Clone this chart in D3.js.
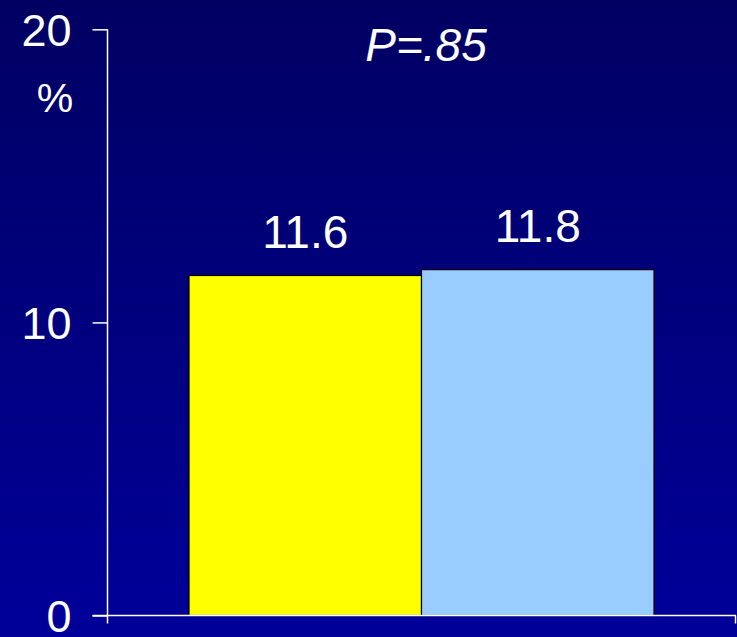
<!DOCTYPE html>
<html>
<head>
<meta charset="utf-8">
<script src="https://cdn.jsdelivr.net/npm/d3@7"></script>
<style>
  html, body { margin: 0; padding: 0; background: #000080; }
  svg { display: block; }
  text { font-family: "Liberation Sans", Arial, sans-serif; fill: #fff; }
</style>
</head>
<body>
<div id="chart"></div>
<script>
var width = 737;
var height = 637;

// data
var groups = ["A", "B"];
var values = [11.6, 11.8];
var barColors = ["#ffff00", "#99ccff"];
var yTicks = [0, 10, 20];
var pLabel = "P=.85";

var svg = d3.select("#chart").append("svg")
  .attr("width", width)
  .attr("height", height);

// background gradient, dark navy at top to brighter blue at bottom
var defs = svg.append("defs");
var grad = defs.append("linearGradient")
  .attr("id", "bg")
  .attr("x1", 0).attr("y1", 0).attr("x2", 0).attr("y2", 1);
grad.append("stop").attr("offset", "0%").attr("stop-color", "#000062");
grad.append("stop").attr("offset", "100%").attr("stop-color", "#00009a");

svg.append("rect")
  .attr("width", width).attr("height", height)
  .attr("fill", "url(#bg)");

var y = d3.scaleLinear().domain([0, 20]).range([615.5, 29.3]);
var x = d3.scaleBand().domain(groups).range([189, 654]).padding(0);

var axisX = 107.5;

// bars
svg.selectAll("rect.bar")
  .data(values)
  .enter().append("rect")
  .attr("class", "bar")
  .attr("x", function(d, i){ return x(groups[i]); })
  .attr("y", function(d){ return y(d); })
  .attr("width", x.bandwidth())
  .attr("height", function(d){ return y(0) - y(d); })
  .attr("fill", function(d, i){ return barColors[i]; })
  .attr("stroke", "#000")
  .attr("stroke-width", 1.2);

// value labels
svg.selectAll("text.val")
  .data(values)
  .enter().append("text")
  .attr("class", "val")
  .attr("x", function(d, i){ return x(groups[i]) + x.bandwidth() / 2; })
  .attr("y", function(d){ return y(d) - 28; })
  .attr("text-anchor", "middle")
  .style("font-size", "46px")
  .text(function(d){ return d.toFixed(1); });

// y axis
var yAxis = d3.axisLeft(y)
  .tickValues(yTicks)
  .tickSize(15)
  .tickSizeOuter(0)
  .tickFormat(d3.format("d"));

var gy = svg.append("g")
  .attr("transform", "translate(" + axisX + ",0)")
  .call(yAxis);

gy.select(".domain").remove();
gy.selectAll(".tick line").attr("stroke", "#fff").attr("stroke-width", 1.5);
gy.selectAll(".tick text")
  .attr("x", -36)
  .attr("dy", "16px")
  .attr("fill", "#fff")
  .style("font-family", "'Liberation Sans', Arial, sans-serif")
  .style("font-size", "45px");

// vertical axis line, runs a bit below the baseline
svg.append("line")
  .attr("x1", axisX).attr("x2", axisX)
  .attr("y1", y(20)).attr("y2", y(0) + 8)
  .attr("stroke", "#fff").attr("stroke-width", 1.5);

// horizontal baseline with a small tick at the right end
svg.append("line")
  .attr("x1", axisX - 15).attr("x2", 736)
  .attr("y1", y(0)).attr("y2", y(0))
  .attr("stroke", "#fff").attr("stroke-width", 1.5);
svg.append("line")
  .attr("x1", 735.5).attr("x2", 735.5)
  .attr("y1", y(0)).attr("y2", y(0) + 8)
  .attr("stroke", "#fff").attr("stroke-width", 1.5);

// unit label
svg.append("text")
  .attr("x", 55).attr("y", 112)
  .attr("text-anchor", "middle")
  .style("font-size", "41px")
  .text("%");

// p-value
svg.append("text")
  .attr("x", 426).attr("y", 61)
  .attr("text-anchor", "middle")
  .style("font-size", "46px")
  .style("font-style", "italic")
  .text(pLabel);
</script>
</body>
</html>
